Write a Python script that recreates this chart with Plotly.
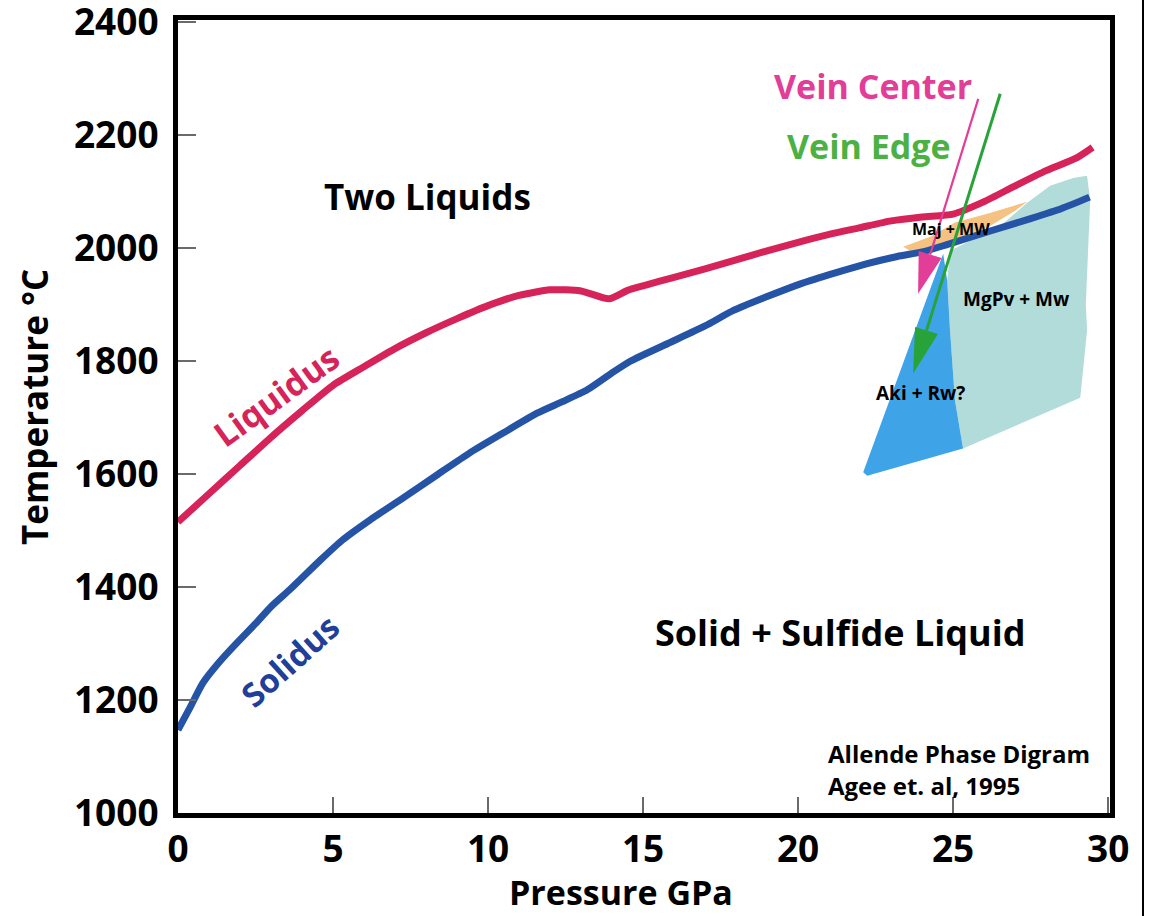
import plotly.graph_objects as go
import numpy as np

# ---------------- data ----------------
liquidus_p = [0, 1, 2, 3, 4, 5, 6, 7, 8, 9, 10, 11, 12, 13, 13.9, 14.5, 15, 16, 17, 18, 19,
              20, 21, 22, 23, 24, 25, 26, 27, 28, 29, 29.5]
liquidus_t = [1515, 1565, 1615, 1665, 1712, 1757, 1790, 1822, 1850, 1875, 1898, 1916, 1926,
              1924, 1910, 1925, 1933, 1948, 1963, 1979, 1995, 2010, 2024, 2036, 2048, 2055,
              2060, 2082, 2110, 2137, 2160, 2178]

solidus_p = [0, 0.4, 0.8, 1.3, 1.9, 2.5, 3.0, 3.6, 4.6, 5.3, 6.2, 7.3, 8.4, 9.4, 10.5, 11.6,
             12.4, 13.2, 14.0, 14.6, 15.8, 17.0, 17.9, 19.0, 20.1, 21.2, 22.2, 23.2, 24.0,
             24.8, 26.2, 27.5, 28.5, 29.4]
solidus_t = [1147, 1188, 1230, 1265, 1301, 1335, 1365, 1395, 1448, 1483, 1519, 1559, 1600,
             1637, 1673, 1708, 1728, 1749, 1779, 1800, 1831, 1862, 1889, 1914, 1937, 1956,
             1972, 1985, 1993, 2006, 2030, 2052, 2070, 2090]

# phase fields (polygon outlines, GPa / degC)
maj_p = [23.39, 24.26, 25.06, 26.19, 27.39, 27.0, 26.19, 25.23, 24.42, 23.61]
maj_t = [2002, 2020, 2045, 2062, 2082, 2066, 2039, 2013, 1995, 1995]

mgpv_p = [24.90, 26.52, 27.39, 28.13, 28.87, 29.32, 29.42, 29.35, 29.28, 29.32, 29.10,
          25.32, 25.06, 24.90, 24.81]
mgpv_t = [1995, 2039, 2080, 2110, 2124, 2128, 2084, 1978, 1900, 1854, 1735,
          1645, 1730, 1854, 1942]

aki_p = [24.68, 24.81, 24.90, 25.06, 25.32, 22.23, 22.10]
aki_t = [1990, 1942, 1854, 1730, 1645, 1597, 1603]

# arrows: tail -> tip
vein_center_p = [25.81, 23.87]
vein_center_t = [2264, 1919]
vein_edge_p = [26.52, 23.71]
vein_edge_t = [2273, 1778]

x_ticks = [0, 5, 10, 15, 20, 25, 30]
y_ticks = [1000, 1200, 1400, 1600, 1800, 2000, 2200, 2400]

# ---------------- style ----------------
W, H = 1149, 916
ML, MR, MT, MB = 178, 39, 20, 103
XR = [0, 30.06]
YR = [1000, 2403.5]
FONT = "Open Sans"

RED = "#d6235a"
BLUE = "#2553a5"
PINK = "#e23d97"
GREEN = "#27a33a"

pw = W - ML - MR
ph = H - MT - MB
sx = pw / (XR[1] - XR[0])
sy = ph / (YR[1] - YR[0])


def head(px_list, ty_list, length, half):
    # arrow-head triangle computed in pixel space from tail/tip data
    x0, y0 = px_list[0] * sx, ty_list[0] * sy
    x1, y1 = px_list[1] * sx, ty_list[1] * sy
    d = np.array([x1 - x0, y1 - y0])
    u = d / np.linalg.norm(d)
    n = np.array([-u[1], u[0]])
    tip = np.array([x1, y1])
    base = tip - length * u
    a = base + half * n
    b = base - half * n
    hx = [a[0] / sx, tip[0] / sx, b[0] / sx, a[0] / sx]
    hy = [a[1] / sy, tip[1] / sy, b[1] / sy, a[1] / sy]
    return hx, hy, base[0] / sx, base[1] / sy


fig = go.Figure()

fig.add_trace(go.Scatter(x=maj_p, y=maj_t, fill="toself", mode="lines",
                         line=dict(width=0), fillcolor="#f6c282", hoverinfo="skip"))
fig.add_trace(go.Scatter(x=mgpv_p, y=mgpv_t, fill="toself", mode="lines",
                         line=dict(width=0), fillcolor="#b2dcd9", hoverinfo="skip"))
fig.add_trace(go.Scatter(x=aki_p, y=aki_t, fill="toself", mode="lines",
                         line=dict(width=0), fillcolor="#3fa3e8", hoverinfo="skip"))

fig.add_trace(go.Scatter(x=liquidus_p, y=liquidus_t, mode="lines",
                         line=dict(color=RED, width=7, shape="spline", smoothing=0.6)))
fig.add_trace(go.Scatter(x=solidus_p, y=solidus_t, mode="lines",
                         line=dict(color=BLUE, width=7, shape="spline", smoothing=0.6)))

# arrows
for ap, at, col, lw, L, hw in [(vein_center_p, vein_center_t, PINK, 2.2, 41, 12),
                               (vein_edge_p, vein_edge_t, GREEN, 3, 45, 12)]:
    hx, hy, bx, by = head(ap, at, L, hw)
    fig.add_trace(go.Scatter(x=[ap[0], bx], y=[at[0], by], mode="lines",
                             line=dict(color=col, width=lw), hoverinfo="skip"))
    fig.add_trace(go.Scatter(x=hx, y=hy, mode="lines", fill="toself",
                             line=dict(color=col, width=0), fillcolor=col, hoverinfo="skip"))


def txt(x, y, s, size, color="black", angle=0, xanchor="center", ref="data"):
    fig.add_annotation(x=x, y=y, text="<b>" + s + "</b>", showarrow=False,
                       xref="x" if ref == "data" else "paper",
                       yref="y" if ref == "data" else "paper",
                       textangle=angle, xanchor=xanchor, yanchor="middle",
                       font=dict(family=FONT, size=size, color=color))


txt(22.42, 2287, "Vein Center", 34, PINK)
txt(22.29, 2181, "Vein Edge", 34, "#4cb144")
txt(8.06, 2092, "Two Liquids", 35)
txt(3.19, 1739, "Liquidus", 34, RED, angle=-36)
txt(3.61, 1270, "Solidus", 33, "#1f3f98", angle=-42)
txt(21.35, 1320, "Solid + Sulfide Liquid", 36)
txt(20.9, 1106, "Allende Phase Digram", 24, xanchor="left")
txt(20.9, 1048, "Agee et. al, 1995", 24, xanchor="left")
txt(24.94, 2034, "Maj + MW", 16)
txt(27.05, 1910, "MgPv + Mw", 19)
txt(23.94, 1744, "Aki + Rw?", 19)

# axis titles
txt((34 - ML) / pw, (H - MB - 407) / ph, "Temperature °C", 35, angle=-90, ref="paper")
txt((621 - ML) / pw, (H - MB - 892) / ph, "Pressure GPa", 34, ref="paper")

axis_common = dict(showline=True, linecolor="black", linewidth=5, mirror=True,
                   ticks="inside", tickcolor="#6a6a6a", tickwidth=2,
                   showgrid=False, zeroline=False, automargin=False,
                   ticklabeloverflow="allow",
                   tickfont=dict(family=FONT, size=37, color="black", weight="bold"))

fig.update_xaxes(range=XR, tickvals=x_ticks, ticklen=16, ticklabelstandoff=0, **axis_common)
fig.update_yaxes(range=YR, tickvals=y_ticks, ticklen=18, ticklabelstandoff=7, **axis_common)

# page border line at right edge
fig.add_shape(type="line", xref="paper", yref="paper",
              x0=(1143 - ML) / pw, x1=(1143 - ML) / pw, y0=-0.2, y1=1.1,
              line=dict(color="black", width=2))

fig.update_layout(width=W, height=H, margin=dict(l=ML, r=MR, t=MT, b=MB),
                  plot_bgcolor="white", paper_bgcolor="white", showlegend=False,
                  font=dict(family=FONT))

fig.write_html("out.html", config={"displayModeBar": False},
               post_script="document.body.style.margin='0';document.body.style.overflow='hidden';")
